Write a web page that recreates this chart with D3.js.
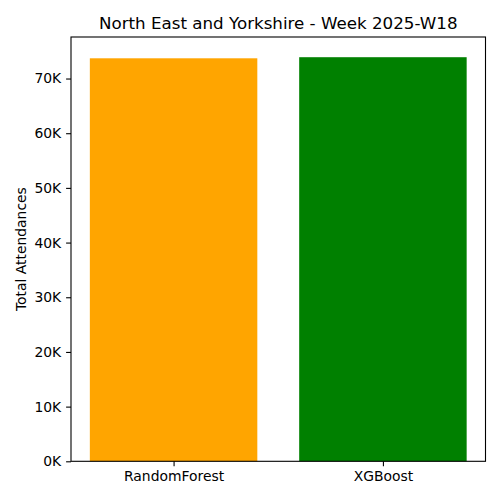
<!DOCTYPE html>
<html><head><meta charset="utf-8">
<script src="https://cdn.jsdelivr.net/npm/d3@7"></script>
<style>body{margin:0;background:#fff}svg{display:block}text{font-family:"DejaVu Sans",sans-serif;fill:#000}</style>
</head><body>
<script>
const categories = ["RandomForest", "XGBoost"];
const values = [73700, 73900];
const colors = ["orange", "green"];
const yTicks = [0, 10000, 20000, 30000, 40000, 50000, 60000, 70000];
const title = "North East and Yorkshire - Week 2025-W18";
const yLabel = "Total Attendances";

const W = 500, H = 500;
const m = {left: 71, right: 14.5, top: 37, bottom: 38.7};
const svg = d3.select("body").append("svg").attr("width", W).attr("height", H);

const x = d3.scaleLinear().domain([-0.49, 1.49]).range([m.left, W - m.right]);
const y = d3.scaleLinear().domain([0, d3.max(values) * 1.05]).range([H - m.bottom, m.top]);

svg.selectAll("rect.bar").data(values).enter().append("rect")
  .attr("x", (d, i) => x(i - 0.4))
  .attr("width", (d, i) => x(i + 0.4) - x(i - 0.4))
  .attr("y", d => y(d))
  .attr("height", d => y(0) - y(d))
  .attr("fill", (d, i) => colors[i]);

const yAxis = d3.axisLeft(y).tickValues(yTicks).tickFormat(d => (d / 1000) + "K").tickSize(4.9).tickPadding(4.9);
const gy = svg.append("g").attr("transform", `translate(${m.left},0)`).call(yAxis);
const xAxis = d3.axisBottom(x).tickValues(categories.map((c, i) => i)).tickFormat(i => categories[i]).tickSize(4.9).tickPadding(4.9);
const gx = svg.append("g").attr("transform", `translate(0,${H - m.bottom})`).call(xAxis);
[gx, gy].forEach(g => {
  g.select(".domain").remove();
  g.selectAll("text").style("font-size", "13.9px").style("font-family", "DejaVu Sans");
  g.selectAll("line").attr("stroke", "#000").attr("stroke-width", 1.1);
});

svg.append("rect").attr("x", m.left).attr("y", m.top)
  .attr("width", W - m.right - m.left).attr("height", H - m.bottom - m.top)
  .attr("fill", "none").attr("stroke", "#000").attr("stroke-width", 1.1);

svg.append("text").attr("x", (m.left + W - m.right) / 2).attr("y", 29)
  .attr("text-anchor", "middle").style("font-size", "16.7px").text(title);

svg.append("text").attr("transform", `translate(26,${(m.top + H - m.bottom) / 2}) rotate(-90)`)
  .attr("text-anchor", "middle").style("font-size", "13.9px").text(yLabel);
</script>
</body></html>
